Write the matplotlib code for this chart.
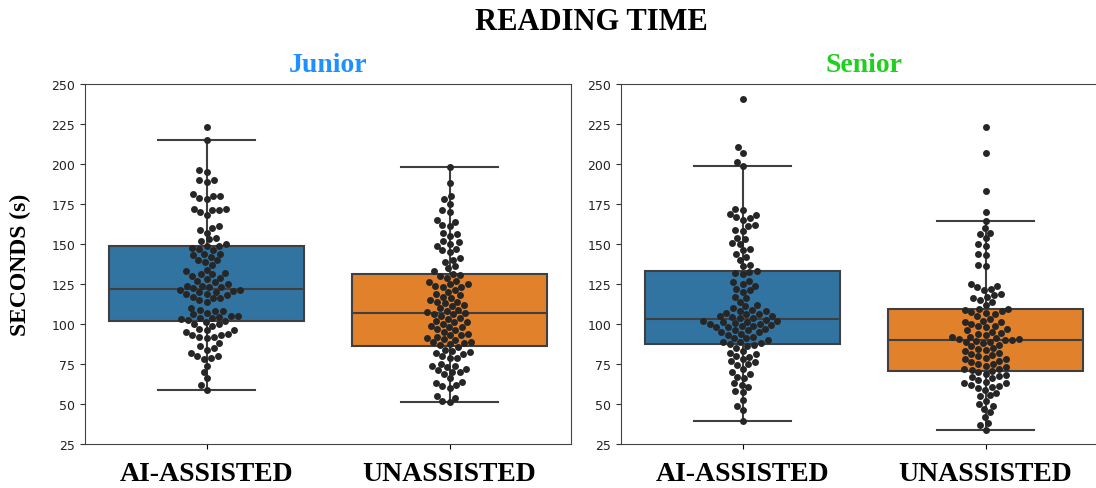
import numpy as np
import pandas as pd
import matplotlib
matplotlib.use("Agg")
import matplotlib.pyplot as plt
import seaborn as sns

categories = ["AI-ASSISTED", "UNASSISTED"]
panel_titles = ["Junior", "Senior"]
title_colors = ["#1e90ff", "#1fd11f"]
y_ticks = [25, 50, 75, 100, 125, 150, 175, 200, 225, 250]

# reading time in seconds
junior_ai = [223, 215, 196, 195, 190, 190, 189, 181, 180, 180, 179, 178, 172, 172,
             171, 171, 170, 168, 161, 160, 159, 157, 154, 153, 152, 150, 149, 149,
             147.5, 147, 146, 144, 144, 143, 142, 140, 140, 139, 137, 134, 133, 132,
             131, 131, 130, 129, 128, 127, 126, 125, 124, 124, 123, 123, 122.5,
             121, 121, 120.5, 120, 120, 119, 119, 118, 117, 116, 116, 115, 114, 110,
             109, 108, 108, 107, 106, 105, 105, 104.5, 104, 104, 103, 102.5, 102,
             101.5, 100, 100, 99, 97, 96, 96, 95, 94, 93, 93, 92, 92, 91, 88, 86, 85,
             84, 82, 80, 80, 79, 78, 74, 70, 66, 62, 59]
junior_unassisted = [198, 188, 180, 178, 175, 171, 170, 165, 164, 162, 161, 157, 156,
                     155, 152, 151, 150, 149, 147, 146, 145, 141, 140, 139, 136, 135,
                     133, 131.5,
                     130.7, 130, 129, 127, 126, 125, 125, 124, 123, 123, 121, 120, 119,
                     118, 117, 116, 115, 114, 114, 113, 112, 111, 110, 109, 108, 107.5, 107,
                     106.4, 106, 105, 104, 103, 102, 101, 101, 100, 99, 98, 98, 97, 96, 95,
                     94, 93, 93, 92, 91, 90.5, 90, 89, 88.5, 88, 87.5, 87,
                     85.8, 84, 83, 82.5, 82, 81, 80, 79, 79, 75, 74, 74, 73, 72, 71, 70,
                     70, 69, 66, 64, 63, 62, 61, 60, 55, 54, 52, 51]
senior_ai = [240.6, 210.4, 207, 201, 198.5, 172, 171, 169, 168, 167, 166, 165, 162, 161,
             159, 158, 154, 153, 150.5, 150, 147, 146, 143.7, 142, 140, 137, 136, 133,
             132.4, 132, 131, 127, 126, 125, 124, 122, 121, 120, 117, 116, 114, 112,
             111, 110, 109, 108, 108, 107, 106, 106, 105, 105, 104.5, 104, 103.5,
             102.7, 102, 102, 101.5, 101, 100.5, 100, 100, 99.5, 99, 98.5, 98, 98, 97,
             96, 96, 95, 95, 94, 93, 92, 91, 91, 90, 89, 88.5, 88,
             87.3, 87, 86.5, 85, 83, 82, 81, 80, 79.6, 78, 77, 76, 75, 74.6, 72, 70,
             69, 67, 66, 63, 62, 60.4, 58, 57.7, 52.7, 49, 46, 39.6]
senior_unassisted = [223, 207, 183, 170, 164.6, 160, 157, 156, 153.5, 150, 149, 144,
                     143, 137, 136, 125, 124, 123, 122, 121, 119, 118, 117, 116, 115,
                     113.5, 112, 109.6,
                     109.2, 109, 108, 107.3, 107, 106, 105, 103, 102, 101.5, 101, 100, 99,
                     98.5, 98, 97, 96, 95, 94.4, 94, 93, 92, 91.6, 91, 90.8, 90.5, 90.2,
                     89.8, 89.6, 89, 88.5, 88, 87, 86, 85, 84.4, 84, 83, 82, 81, 80.6, 80,
                     79, 78.1, 78, 77, 76, 75, 75, 74, 73, 72, 71.9, 71.5,
                     70.5, 70, 69, 68, 67.3, 67, 66, 65, 64, 63.1, 63, 62, 61, 60.4, 60,
                     59, 57, 55.6, 55, 52, 50, 49, 47, 45, 42, 38, 36.9, 33.9]

groups = {
    "Junior": [junior_ai, junior_unassisted],
    "Senior": [senior_ai, senior_unassisted],
}

serif = "Liberation Serif"
fig = plt.figure(figsize=(10.96, 4.89), dpi=100)
ax_l = fig.add_axes([85 / 1096, 44 / 489, 486 / 1096, 360 / 489])
ax_r = fig.add_axes([621 / 1096, 44 / 489, 486 / 1096, 360 / 489])

for ax, name, tcolor in zip([ax_l, ax_r], panel_titles, title_colors):
    vals = groups[name]
    df = pd.DataFrame({
        "cond": [categories[0]] * len(vals[0]) + [categories[1]] * len(vals[1]),
        "time": vals[0] + vals[1],
    })
    sns.boxplot(data=df, x="cond", y="time", hue="cond", order=categories,
                palette=["#1f77b4", "#ff7f0e"], saturation=0.75, showfliers=False,
                linewidth=1.5, legend=False, ax=ax)
    sns.swarmplot(data=df, x="cond", y="time", order=categories, color="#262626",
                  size=5, ax=ax)
    ax.set_ylim(25, 250)
    ax.set_yticks(y_ticks)
    ax.tick_params(axis="y", labelsize=9, colors="#333333", labelcolor="#222222")
    ax.tick_params(axis="x", pad=9)
    ax.set_xlabel("")
    ax.set_ylabel("")
    for lbl in ax.get_xticklabels():
        lbl.set_fontfamily(serif)
        lbl.set_fontweight("bold")
        lbl.set_fontsize(20)
    for sp in ax.spines.values():
        sp.set_color("#444444")
    ax.set_title(name, color=tcolor, fontfamily=serif, fontweight="bold",
                 fontsize=20, pad=9)

ax_l.set_ylabel("SECONDS (s)", fontfamily=serif, fontweight="bold", fontsize=17)
ax_l.yaxis.set_label_coords(-0.112, 0.5)

fig.text(591 / 1096, 0.955, "READING TIME", ha="center", va="center",
         fontfamily=serif, fontweight="bold", fontsize=22)

fig.savefig("out.png", dpi=100)
